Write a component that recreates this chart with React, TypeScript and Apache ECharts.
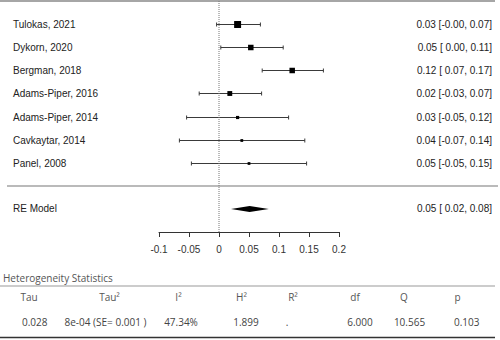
import React, { useEffect, useRef } from "react";
import * as echarts from "echarts";

// ---- data ----
const studies = [
  "Tulokas, 2021",
  "Dykorn, 2020",
  "Bergman, 2018",
  "Adams-Piper, 2016",
  "Adams-Piper, 2014",
  "Cavkaytar, 2014",
  "Panel, 2008",
];
const estimates = [0.031, 0.053, 0.122, 0.018, 0.031, 0.038, 0.05];
const lowerCI = [-0.004, 0.003, 0.072, -0.033, -0.054, -0.066, -0.046];
const upperCI = [0.069, 0.107, 0.174, 0.071, 0.116, 0.143, 0.146];
const weights = [26, 19, 19, 16, 8, 6, 6];
const modelLabel = "RE Model";
const modelEstimate = 0.051;
const modelLower = 0.02;
const modelUpper = 0.083;
const xTicks = [-0.1, -0.05, 0, 0.05, 0.1, 0.15, 0.2];

const tableTitle = "Heterogeneity Statistics";
const tableHeaders = ["Tau", "Tau²", "I²", "H²", "R²", "df", "Q", "p"];
const tableValues = ["0.028", "8e-04 (SE= 0.001 )", "47.34%", "1.899", ".", "6.000", "10.565", "0.103"];

// ---- layout (pixels) ----
const headerX = [29, 109.5, 178.5, 241.5, 293, 355, 404, 457.5];
const valueX = [34.7, 105.5, 181, 246, 287, 360, 409.5, 466.7];

const FOREST_FONT = "'Liberation Sans', Arial, sans-serif";
const TABLE_FONT = "'Open Sans', 'Noto Sans', sans-serif";

const padLo = (v: number) => {
  const s = v.toFixed(2);
  return s.startsWith("-") ? s : " " + s;
};
const ciLabel = (e: number, l: number, h: number) =>
  `${e.toFixed(2)} [${padLo(l)}, ${h.toFixed(2)}]`;

export default function App() {
  const ref = useRef<HTMLDivElement>(null);

  useEffect(() => {
    if (!ref.current) return;
    const chart = echarts.init(ref.current, null, { renderer: "svg" });
    const stroke = "#3a3a3a";
    const modelRow = studies.length + 1;

    const studyData = studies.map((_, i) => [i, estimates[i], lowerCI[i], upperCI[i], weights[i]]);

    const graphics: any[] = [
      { type: "line", shape: { x1: 0, y1: 1, x2: 495, y2: 1 }, style: { stroke: "#888", lineWidth: 1.5 } },
      { type: "line", shape: { x1: 7, y1: 186, x2: 498, y2: 186 }, style: { stroke: "#777", lineWidth: 1.2 } },
      {
        type: "text",
        x: 3,
        y: 278,
        style: { text: tableTitle, fontSize: 10, fontFamily: TABLE_FONT, fill: "#555", verticalAlign: "middle", align: "left" },
      },
      { type: "line", shape: { x1: 0, y1: 286, x2: 495, y2: 286 }, style: { stroke: "#999", lineWidth: 1.2 } },
      { type: "line", shape: { x1: 0, y1: 337.5, x2: 495, y2: 337.5 }, style: { stroke: "#333", lineWidth: 1.6 } },
    ];
    tableHeaders.forEach((h, i) => {
      graphics.push({
        type: "text",
        x: headerX[i],
        y: 297,
        style: { text: h, fontSize: 10, fontFamily: TABLE_FONT, fill: "#555", verticalAlign: "middle", align: "center" },
      });
    });
    tableValues.forEach((v, i) => {
      graphics.push({
        type: "text",
        x: valueX[i],
        y: 322,
        style: { text: v, fontSize: 10, fontFamily: TABLE_FONT, fill: "#444", verticalAlign: "middle", align: "center" },
      });
    });

    chart.setOption({
      animation: false,
      grid: { left: 159, right: 161, top: 1, bottom: 108 },
      xAxis: {
        type: "value",
        min: xTicks[0],
        max: xTicks[xTicks.length - 1],
        interval: 0.05,
        axisLine: { show: true, onZero: false, lineStyle: { color: "#333", width: 1 } },
        axisTick: { show: true, length: 5, lineStyle: { color: "#333" } },
        splitLine: { show: false },
        axisLabel: {
          fontSize: 10,
          fontFamily: FOREST_FONT,
          color: "#333",
          margin: 12,
          formatter: (v: number) => {
            const t = xTicks.find((x) => Math.abs(x - v) < 1e-9);
            return t === undefined ? "" : String(t);
          },
        },
      },
      yAxis: { type: "value", min: -1, max: 9, inverse: true, show: false },
      graphic: graphics,
      series: [
        {
          type: "line",
          data: [
            [0, -1],
            [0, 9],
          ],
          showSymbol: false,
          symbol: "none",
          silent: true,
          lineStyle: { type: "dotted", color: "#777", width: 1 },
        },
        {
          type: "custom",
          data: studyData,
          clip: false,
          renderItem: (params: any, api: any) => {
            const i = params.dataIndex;
            const row = api.value(0);
            const p = api.coord([api.value(1), row]);
            const xe = p[0];
            const y = Math.round(p[1]) + 0.5;
            const xl = api.coord([api.value(2), row])[0];
            const xh = api.coord([api.value(3), row])[0];
            const s = 1.5 + api.value(4) * 0.21;
            return {
              type: "group",
              children: [
                { type: "line", shape: { x1: xl, y1: y, x2: xh, y2: y }, style: { stroke, lineWidth: 1 } },
                { type: "line", shape: { x1: xl, y1: y - 2, x2: xl, y2: y + 2 }, style: { stroke, lineWidth: 1 } },
                { type: "line", shape: { x1: xh, y1: y - 2, x2: xh, y2: y + 2 }, style: { stroke, lineWidth: 1 } },
                { type: "rect", shape: { x: xe - s / 2, y: y - s / 2, width: s, height: s }, style: { fill: "#000" } },
                {
                  type: "text",
                  x: 13,
                  y,
                  style: { text: studies[i], fontSize: 10, fontFamily: FOREST_FONT, fill: "#222", verticalAlign: "middle", align: "left" },
                },
                {
                  type: "text",
                  x: 492,
                  y,
                  style: {
                    text: ciLabel(estimates[i], lowerCI[i], upperCI[i]),
                    fontSize: 10,
                    fontFamily: FOREST_FONT,
                    fill: "#222",
                    verticalAlign: "middle",
                    align: "right",
                  },
                },
              ],
            };
          },
        },
        {
          type: "custom",
          data: [[modelRow, modelEstimate, modelLower, modelUpper]],
          clip: false,
          renderItem: (params: any, api: any) => {
            const row = api.value(0);
            const p = api.coord([api.value(1), row]);
            const y = p[1];
            const xl = api.coord([api.value(2), row])[0];
            const xh = api.coord([api.value(3), row])[0];
            const h = 3;
            return {
              type: "group",
              children: [
                {
                  type: "polygon",
                  shape: { points: [[xl, y], [p[0], y - h], [xh, y], [p[0], y + h]] },
                  style: { fill: "#000" },
                },
                {
                  type: "text",
                  x: 13,
                  y,
                  style: { text: modelLabel, fontSize: 10, fontFamily: FOREST_FONT, fill: "#222", verticalAlign: "middle", align: "left" },
                },
                {
                  type: "text",
                  x: 492,
                  y,
                  style: {
                    text: ciLabel(modelEstimate, modelLower, modelUpper),
                    fontSize: 10,
                    fontFamily: FOREST_FONT,
                    fill: "#222",
                    verticalAlign: "middle",
                    align: "right",
                  },
                },
              ],
            };
          },
        },
      ],
    });

    return () => chart.dispose();
  }, []);

  return (
    <div
      ref={ref}
      style={{ position: "fixed", left: 0, top: 0, width: 500, height: 340, background: "#fff" }}
    />
  );
}
